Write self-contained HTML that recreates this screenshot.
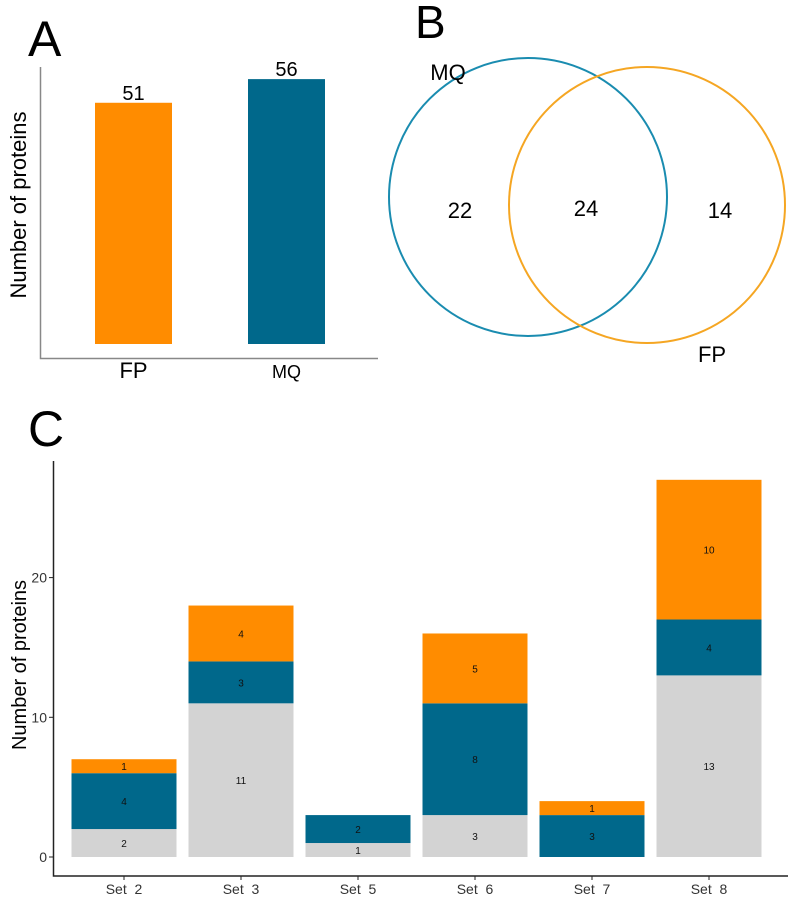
<!DOCTYPE html>
<html><head><meta charset="utf-8"><style>
body{margin:0;background:#fff;font-family:"Liberation Sans",sans-serif}
svg{display:block}
</style></head><body>
<svg id="fig" width="790" height="903" xmlns="http://www.w3.org/2000/svg" font-family="Liberation Sans, sans-serif">
<text x="28" y="56" font-size="50">A</text>
<text x="415" y="38" font-size="46">B</text>
<text x="28" y="446" font-size="50">C</text>
<g id="pa"></g>
<g id="pb">
<circle cx="528" cy="197" r="139" fill="none" stroke="#1a8cb0" stroke-width="2"/>
<circle cx="647" cy="205" r="138" fill="none" stroke="#f5a623" stroke-width="2"/>
<text x="448" y="80" font-size="22" text-anchor="middle">MQ</text>
<text x="712" y="362" font-size="22" text-anchor="middle">FP</text>
<text x="460" y="218" font-size="22" text-anchor="middle">22</text>
<text x="586" y="216" font-size="22" text-anchor="middle">24</text>
<text x="720" y="218" font-size="22" text-anchor="middle">14</text>
</g>
<g id="pc"></g>
</svg>
<script>
const aCats=["FP","MQ"];
const aVals=[51,56];
const cCats=["Set 2","Set 3","Set 5","Set 6","Set 7","Set 8"];
const cShared=[2,11,1,3,0,13];
const cMQ=[4,3,2,8,3,4];
const cFP=[1,4,0,5,1,10];
const cTicks=[0,10,20];
const NS="http://www.w3.org/2000/svg";
function mk(p,t,a){const e=document.createElementNS(NS,t);for(const k in a)e.setAttribute(k,a[k]);p.appendChild(e);return e;}
// Panel A
const pa=document.getElementById('pa');
const aY=v=>344-v*4.73;
const aX=i=>133.5+i*153;
const axA=mk(pa,'path',{d:'M40.5 67 V358.5 H378',fill:'none',stroke:'#888','stroke-width':1.5});


const aCol=["#ff8c00","#00688b"];
aVals.forEach((v,i)=>{
 const r=mk(pa,'rect',{x:aX(i)-38.5,y:aY(v),width:77,height:344-aY(v),fill:aCol[i]});
 
 
 const t=mk(pa,'text',{x:aX(i),y:aY(v)-3,'font-size':20,'text-anchor':'middle'});t.textContent=v;
 
 
 const l=mk(pa,'text',{x:aX(i),y:378,'font-size':i==0?22:18,'text-anchor':'middle'});l.textContent=aCats[i];
 
 
});
const ayt=mk(pa,'text',{x:0,y:0,'font-size':22,'text-anchor':'middle',transform:'translate(26,205) rotate(-90)'});ayt.textContent='Number of proteins';


// Panel C
const pc=document.getElementById('pc');
const cY=v=>857-v*13.97;
const cX=i=>124+i*117;
const axC=mk(pc,'path',{d:'M53.5 461 V876 H788',fill:'none',stroke:'#222','stroke-width':1.5});


cTicks.forEach(t=>{
 const tk=mk(pc,'line',{x1:49,x2:53.5,y1:cY(t),y2:cY(t),stroke:'#222'});
 
 
 const tl=mk(pc,'text',{x:47,y:cY(t)+5,'font-size':14,'text-anchor':'end',fill:'#333'});tl.textContent=t;
 
 
});
const series=[[cShared,"#d3d3d3","shared"],[cMQ,"#00688b","mq"],[cFP,"#ff8c00","fp"]];
cCats.forEach((c,i)=>{
 let base=0;
 series.forEach(([arr,col,nm])=>{
  const v=arr[i];if(!v)return;
  const r=mk(pc,'rect',{x:cX(i)-52.5,y:cY(base+v),width:105,height:cY(base)-cY(base+v),fill:col});
  
  
  const t=mk(pc,'text',{x:cX(i),y:(cY(base)+cY(base+v))/2+4,'font-size':10,'text-anchor':'middle',fill:'#111'});t.textContent=v;
  
  
  base+=v;
 });
 const tk=mk(pc,'line',{x1:cX(i),x2:cX(i),y1:876,y2:880,stroke:'#222'});
 
 
 const l=mk(pc,'text',{x:cX(i),y:894,'font-size':14,'text-anchor':'middle',fill:'#333'});l.textContent=c.replace(' ','\u00a0\u00a0');
 
 
});
const cyt=mk(pc,'text',{x:0,y:0,'font-size':20,'text-anchor':'middle',transform:'translate(26,665) rotate(-90)'});cyt.textContent='Number of proteins';


</script>
</body></html>
